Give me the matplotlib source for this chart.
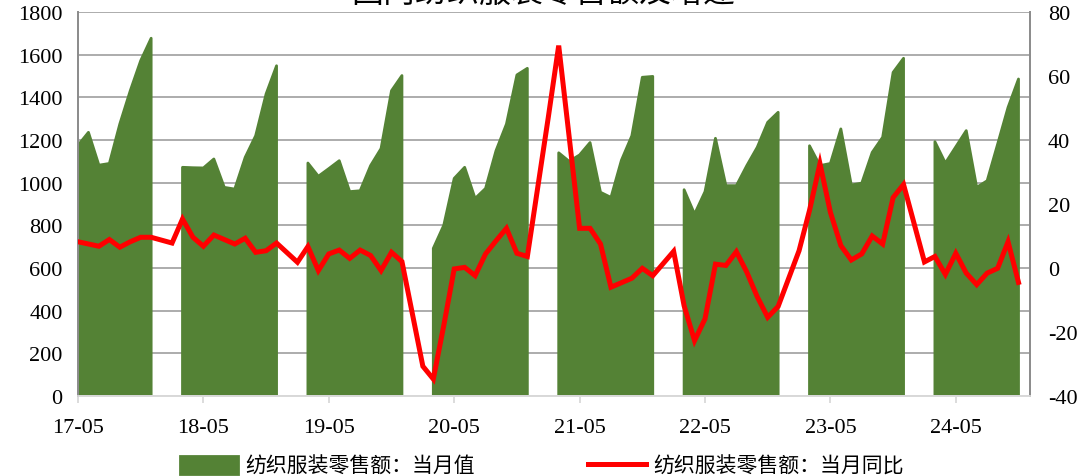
import numpy as np
import pandas as pd
import matplotlib
matplotlib.use('Agg')
import matplotlib.pyplot as plt

plt.rcParams['font.family'] = ['Liberation Serif', 'Noto Sans CJK SC', 'DejaVu Sans']
plt.rcParams['axes.unicode_minus'] = False

# Months from 17-05 to 24-11
months = pd.period_range('2017-05', '2024-11', freq='M')
month_labels = [p.strftime('%y-%m') for p in months]

# 纺织服装零售额 当月值 (亿元); Jan/Feb not reported
sales = [
    1175, 1236, 1082, 1090, 1275, 1431, 1572, 1677,
    None, None, 1072, 1070, 1069, 1111, 978, 970, 1119, 1220, 1416, 1548,
    None, None, 1092, 1030, 1066, 1103, 958, 962, 1080, 1160, 1431, 1502,
    None, None, 692, 800, 1020, 1072, 926, 973, 1150, 1275, 1505, 1536,
    None, None, 1140, 1100, 1130, 1188, 955, 931, 1105, 1220, 1494, 1498,
    None, None, 967, 853, 958, 1208, 986, 986, 1080, 1166, 1283, 1330,
    None, None, 1173, 1080, 1090, 1252, 989, 998, 1142, 1213, 1517, 1583,
    None, None, 1192, 1092, 1168, 1244, 978, 1009, 1180, 1353, 1486,
]

# 当月同比 (%); Jan not reported
yoy = [
    8.2, 7.5, 6.8, 8.9, 6.5, 8.2, 9.6, 9.6,
    None, 7.8, 15.3, 9.6, 6.8, 10.3, 8.9, 7.5, 9.3, 4.9, 5.4, 7.8,
    None, 1.8, 6.7, -0.8, 4.4, 5.6, 3.0, 5.6, 3.9, -0.8, 4.9, 2.0,
    None, -30.7, -34.7, -18.0, -0.3, 0.2, -2.4, 4.4, 8.5, 12.4, 4.6, 3.6,
    None, 47.0, 69.5, 41.0, 12.4, 12.4, 7.5, -6.0, -4.6, -3.2, -0.1, -2.4,
    None, 5.2, -11.8, -22.7, -15.9, 1.2, 0.8, 5.1, -1.3, -9.0, -15.4, -12.0,
    None, 5.4, 18.0, 32.6, 17.4, 7.0, 2.5, 4.4, 10.0, 7.5, 22.0, 26.1,
    None, 1.9, 3.6, -2.0, 4.6, -1.6, -5.2, -1.6, -0.1, 8.2, -4.5,
]

tick_labels = ['17-05', '18-05', '19-05', '20-05', '21-05', '22-05', '23-05', '24-05']

title = '国内纺织服装零售额及增速'
label_sales = '纺织服装零售额：当月值'
label_yoy = '纺织服装零售额：当月同比'

green = '#548235'
red = '#FF0000'
grid_c = '#A6A6A6'

x = np.arange(len(months))
s = np.array([np.nan if v is None else v for v in sales], dtype=float)
r = np.array([np.nan if v is None else v for v in yoy], dtype=float)

fig = plt.figure(figsize=(10.87, 4.77), dpi=100)
ax = fig.add_axes([78/1087, 1-397/477, (1030-78)/1087, (397-13)/477])
ax2 = ax.twinx()

# area, broken where the month is missing
ax.fill_between(x, 0, s, where=~np.isnan(s), color=green, edgecolor=green,
                linewidth=2, joinstyle='round', zorder=2, label=label_sales)

# line connects across missing months
ok = ~np.isnan(r)
ax2.plot(x[ok], r[ok], color=red, linewidth=3.6, solid_joinstyle='miter',
         zorder=3, label=label_yoy)

ax.set_xlim(0, 91.1)
ax.set_ylim(0, 1800)
ax.set_yticks(np.arange(0, 1801, 200))
ax2.set_ylim(-40, 80)
ax2.set_yticks(np.arange(-40, 81, 20))

ax.set_xticks([month_labels.index(t) for t in tick_labels])
ax.set_xticklabels(tick_labels)

ax.grid(axis='y', color=grid_c, linewidth=1.3, zorder=0)
ax.set_axisbelow(True)

for a in (ax, ax2):
    a.spines['top'].set_visible(False)
    a.spines['left'].set_color('#8C8C8C')
    a.spines['right'].set_color('#8C8C8C')
    a.spines['bottom'].set_color('#D9D9D9')
    a.spines['left'].set_linewidth(1.3)
    a.spines['right'].set_linewidth(1.3)
    a.spines['bottom'].set_linewidth(1.3)

ax.tick_params(axis='x', length=5, color='#D9D9D9', width=1.3, pad=11, labelsize=16)
ax.tick_params(axis='y', length=0, pad=11, labelsize=16)
ax2.tick_params(axis='y', length=0, pad=13, labelsize=16)

fig.text(0.5, 1 + 7/477, title, ha='center', va='center', fontsize=23,
         family=['Noto Sans CJK SC', 'DejaVu Sans'])

h1, l1 = ax.get_legend_handles_labels()
h2, l2 = ax2.get_legend_handles_labels()
leg = fig.legend(h1 + h2, l1 + l2, loc='center left', ncol=2,
                 bbox_to_anchor=(180/1087, 1 - 467/477), frameon=False,
                 borderpad=0, borderaxespad=0, handlelength=2.8, handleheight=1.0,
                 handletextpad=0.35, columnspacing=5.4,
                 prop={'family': ['Noto Sans CJK SC', 'DejaVu Sans'], 'size': 15})

fig.savefig('out.png', dpi=100)
